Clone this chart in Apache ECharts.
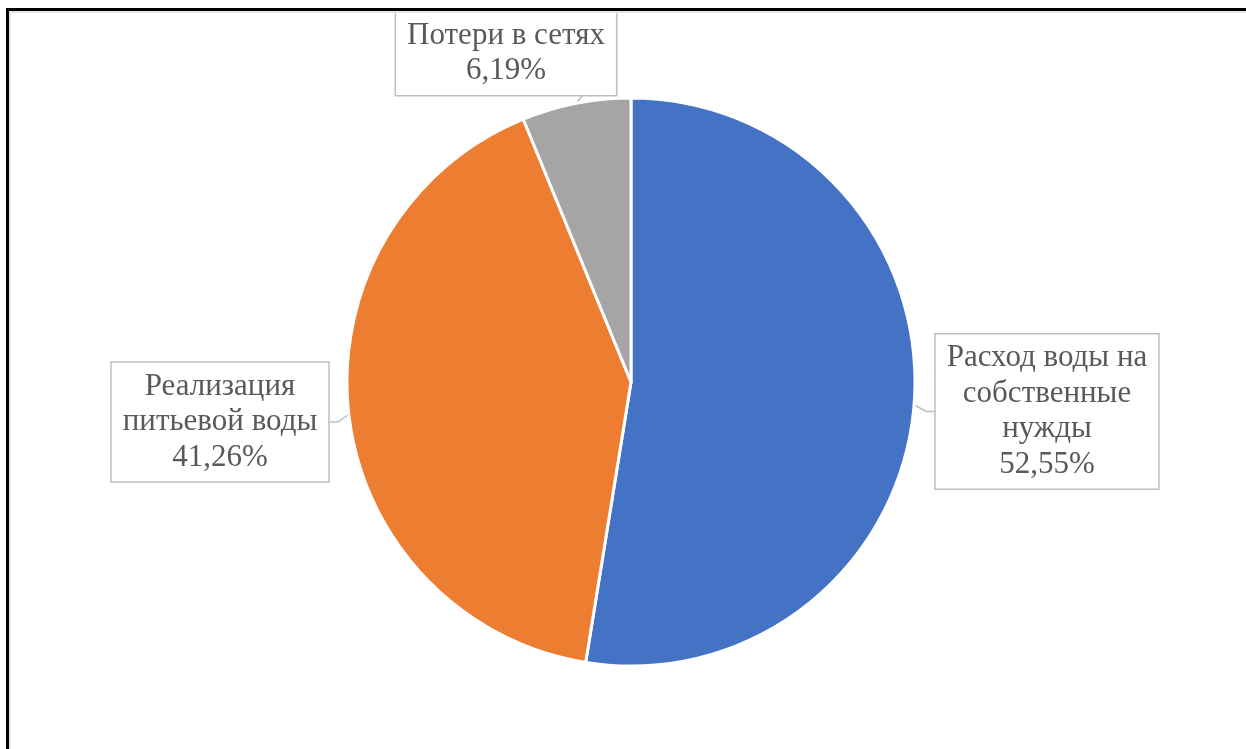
<!DOCTYPE html>
<html>
<head>
<meta charset="utf-8">
<script src="https://cdn.jsdelivr.net/npm/echarts@6/dist/echarts.min.js"></script>
<style>
html,body{margin:0;padding:0;background:#fff;}
#chart{width:1246px;height:749px;}
</style>
</head>
<body>
<div id="chart"></div>
<script>
const categories = ['Расход воды на\nсобственные\nнужды', 'Реализация\nпитьевой воды', 'Потери в сетях'];
const values = [52.55, 41.26, 6.19];
const colors = ['#4472C4', '#ED7D31', '#A5A5A5'];
const labelCenters = [[1047, 411.5], [220, 422], [506, 53.5]];

const chart = echarts.init(document.getElementById('chart'), null, {renderer: 'canvas'});
chart.setOption({
  backgroundColor: '#fff',
  animation: false,
  graphic: [
    {type: 'rect', shape: {x: 9, y: 11, width: 1246, height: 2}, style: {fill: '#e6e6e6'}, z: 10},
    {type: 'rect', shape: {x: 9, y: 11, width: 2, height: 749}, style: {fill: '#e6e6e6'}, z: 10},
    {type: 'rect', shape: {x: 6, y: 8, width: 1246, height: 3}, style: {fill: '#000'}, z: 11},
    {type: 'rect', shape: {x: 6, y: 8, width: 3, height: 749}, style: {fill: '#000'}, z: 11}
  ],
  series: [{
    type: 'pie',
    center: [631, 382],
    radius: 284,
    startAngle: 90,
    clockwise: true,
    data: categories.map((n, i) => ({name: n, value: values[i], itemStyle: {color: colors[i]}})),
    itemStyle: {borderColor: '#fff', borderWidth: 3},
    label: {
      show: true,
      position: 'outside',
      formatter: p => p.name + '\n' + p.value.toFixed(2).replace('.', ',') + '%',
      fontFamily: '"Liberation Serif", "DejaVu Serif", serif',
      fontSize: 31,
      lineHeight: 35.5,
      color: '#595959',
      align: 'center',
      backgroundColor: '#fff',
      borderColor: '#bfbfbf',
      borderWidth: 1.5,
      padding: [6, 11, 6, 11]
    },
    labelLine: {show: true, length: 8, length2: 8, lineStyle: {color: '#bfbfbf', width: 1.5}},
    labelLayout: function (p) {
      const c = labelCenters[p.dataIndex];
      return {x: c[0], y: c[1], align: 'center', verticalAlign: 'middle'};
    },
    emphasis: {disabled: true}
  }]
});
</script>
</body>
</html>
